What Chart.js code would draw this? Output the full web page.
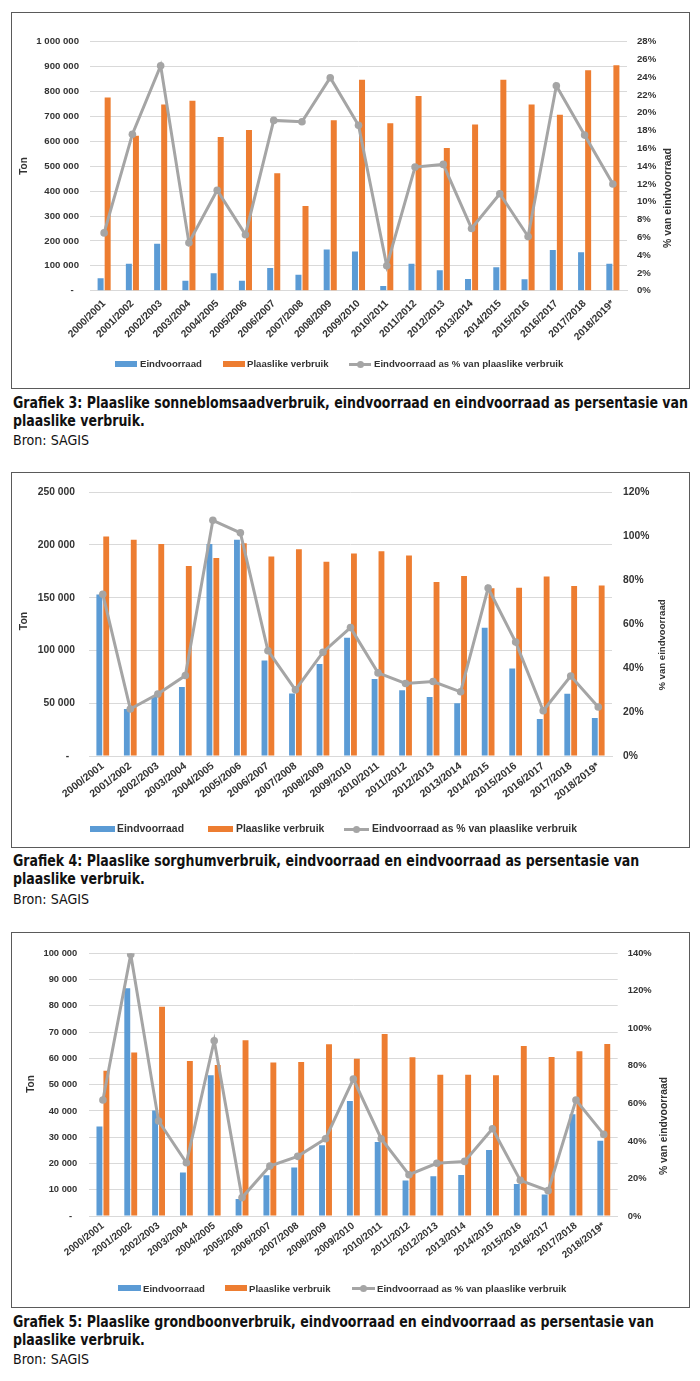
<!DOCTYPE html>
<html><head><meta charset="utf-8">
<script src="https://cdn.jsdelivr.net/npm/chart.js@4.4.1/dist/chart.umd.min.js"></script>
<style>
html,body{margin:0;padding:0;background:#fff;}
body{width:700px;height:1381px;position:relative;overflow:hidden;font-family:"Liberation Sans",Arial,sans-serif;}
.frame{position:absolute;left:11px;width:679px;border:1.6px solid #5a5a5a;box-sizing:border-box;}
canvas{position:absolute;left:0;}
.lt{position:absolute;font-family:"Liberation Sans",Arial,sans-serif;font-weight:bold;color:#333;white-space:nowrap;}
.cap{position:absolute;left:13px;white-space:nowrap;transform-origin:0 0;color:#111;font-family:"Liberation Sans Narrow","DejaVu Sans Condensed","Liberation Sans",sans-serif;}
</style></head><body>
<script>
// ---- data ----
const categories = ['2000/2001','2001/2002','2002/2003','2003/2004','2004/2005','2005/2006','2006/2007','2007/2008','2008/2009','2009/2010','2010/2011','2011/2012','2012/2013','2013/2014','2014/2015','2015/2016','2016/2017','2017/2018','2018/2019*'];
const seriesNames = ['Eindvoorraad','Plaaslike verbruik','Eindvoorraad as % van plaaslike verbruik'];

// Grafiek 3: sonneblomsaad
const sonEindvoorraad = [50000,108000,189000,40000,70000,40000,91000,64000,165000,157000,19000,108000,82000,47000,94000,46000,163000,154000,108000];
const sonVerbruik = [776000,622000,748000,763000,617000,645000,472000,340000,685000,847000,672000,782000,573000,667000,847000,748000,707000,885000,905000];
const sonPersent = [6.5,17.6,25.3,5.4,11.3,6.3,19.15,19.0,23.95,18.6,2.8,13.9,14.2,7.0,10.9,6.1,23.05,17.5,12.0];

// Grafiek 4: sorghum
const sorEindvoorraad = [153000,44500,56000,65400,201000,205000,90600,59300,87200,112000,73000,62300,56000,50000,121600,83000,35000,59000,36000];
const sorVerbruik = [208000,205000,201000,180000,187700,201500,189000,196000,184000,192000,194000,190000,165000,170500,159000,159400,170000,161000,161500];
const sorPersent = [73.6,21.4,28.2,36.6,107.2,101.5,47.9,30.1,47.2,58.4,37.8,33.0,33.9,29.2,76.4,51.8,20.6,36.4,22.3];

// Grafiek 5: grondboon
const grdEindvoorraad = [34100,86700,40200,16600,53600,6500,15500,18500,26900,43800,28200,13500,15100,15600,25100,12200,8200,38700,28600];
const grdVerbruik = [55300,62200,79700,59000,57500,66900,58400,58600,65400,59900,69300,60400,53800,53800,53600,64700,60500,62700,65500];
const grdPersent = [61.8,139.4,50.6,28.4,93.4,9.8,26.6,31.8,41.2,73.0,41.2,22.0,28.1,29.1,46.5,19.0,13.5,61.8,43.5];

// axis ranges
const tonAxes = [{max:1000000, step:100000},{max:250000, step:50000},{max:100000, step:10000}];
const pctAxes = [{max:28, step:2},{max:120, step:20},{max:140, step:20}];

const captions = [
  ['Grafiek 3: Plaaslike sonneblomsaadverbruik, eindvoorraad en eindvoorraad as persentasie van','plaaslike verbruik.','Bron: SAGIS'],
  ['Grafiek 4: Plaaslike sorghumverbruik, eindvoorraad en eindvoorraad as persentasie van','plaaslike verbruik.','Bron: SAGIS'],
  ['Grafiek 5: Plaaslike grondboonverbruik, eindvoorraad en eindvoorraad as persentasie van','plaaslike verbruik.','Bron: SAGIS']
];
const leftTitle = 'Ton';
const rightTitle = '% van eindvoorraad';

// ---- layout (positions/styles) ----
const layouts = [
  {top:12, bottom:388, plot:{l:90,r:627,t:41.7,b:290.7}, font:9.6, xfont:10.2, xpad:7, rot:45, padL:11, padR:10,
   tL:{x:24,y:166,s:10}, tR:{x:668,y:198,s:10.5},
   leg:{y:364, f:9.6, b:[115,22,140], o:[223,22,247], g:[349,22,374]},
   cap:[409.3,427,445]},
  {top:472, bottom:847, plot:{l:89,r:612,t:484.7,b:756}, font:10.3, xfont:10.5, xpad:4, rot:38, padL:14, padR:11,
   tL:{x:24,y:621,s:10.5}, tR:{x:662,y:645,s:9.6},
   leg:{y:829.3, f:10.4, b:[90,25,117], o:[208,25,236], g:[344,25,372]},
   cap:[867.3,885,904]},
  {top:932, bottom:1307, plot:{l:89,r:617.7,t:953.3,b:1216}, font:9.4, xfont:10, xpad:4, rot:38, padL:11.7, padR:10,
   tL:{x:31,y:1084,s:10}, tR:{x:664,y:1126,s:10.3},
   leg:{y:1288.3, f:9.6, b:[118,23,143], o:[225,22,249], g:[352,23,377]},
   cap:[1328.3,1346,1364]}
];
const data = [
  [sonEindvoorraad, sonVerbruik, sonPersent],
  [sorEindvoorraad, sorVerbruik, sorPersent],
  [grdEindvoorraad, grdVerbruik, grdPersent]
];

const BLUE='#5B9BD5', ORANGE='#ED7D31', GRAY='#A5A5A5', GRID='#D9D9D9', TXT='#333333';
const FAM='"Liberation Sans", Arial, sans-serif';
const fmtTon = v => v === 0 ? '-  ' : String(v).replace(/\B(?=(\d{3})+(?!\d))/g,' ');

function el(cls, css, text){
  const d=document.createElement('div'); if(cls) d.className=cls;
  Object.assign(d.style, css); if(text!==undefined) d.textContent=text;
  document.body.appendChild(d); return d;
}

function build(i){
  const o = layouts[i];
  const [eind, verbr, pct] = data[i];
  const H = o.bottom - o.top;
  el('frame',{top:o.top+'px',height:(H+1)+'px'});
  const cv=document.createElement('canvas');
  cv.style.top=o.top+'px'; cv.style.width='700px'; cv.style.height=H+'px';
  cv.width=700; cv.height=H;
  document.body.appendChild(cv);
  const tf={family:FAM,size:o.font,weight:'bold'};
  const xf={family:FAM,size:o.xfont,weight:'bold'};
  const titles={id:'titles'+i, afterDraw(ch){
    const c=ch.ctx; c.save(); c.fillStyle=TXT; c.textAlign='center'; c.textBaseline='middle';
    [[o.tL,leftTitle],[o.tR,rightTitle]].forEach(([p,t])=>{
      c.save(); c.translate(p.x, p.y - o.top); c.rotate(-Math.PI/2);
      c.font='bold '+p.s+'px '+FAM; c.fillText(t,0,0); c.restore();
    });
    c.restore();
  }};
  new Chart(cv,{
    data:{labels:categories, datasets:[
      {type:'line', label:seriesNames[2], data:pct, yAxisID:'y1', borderColor:GRAY, backgroundColor:GRAY,
       borderWidth:3, pointRadius:3.8, pointBackgroundColor:GRAY, pointBorderWidth:0, tension:0, order:0},
      {type:'bar', label:seriesNames[0], data:eind, yAxisID:'y', backgroundColor:BLUE, order:1,
       barPercentage:0.85, categoryPercentage:0.5},
      {type:'bar', label:seriesNames[1], data:verbr, yAxisID:'y', backgroundColor:ORANGE, order:1,
       barPercentage:0.85, categoryPercentage:0.5}
    ]},
    options:{
      responsive:false, animation:false, devicePixelRatio:window.devicePixelRatio||1,
      layout:{padding:{left:12,right:0,top:o.plot.t-o.top,bottom:0}},
      plugins:{legend:{display:false}, tooltip:{enabled:false}},
      scales:{
        x:{offset:true, grid:{display:false,drawTicks:false}, border:{color:GRID},
           ticks:{autoSkip:false,minRotation:o.rot,maxRotation:o.rot,font:xf,color:TXT,padding:o.xpad},
           afterFit(s){s.height=o.bottom-o.plot.b;}},
        y:{position:'left', min:0, max:tonAxes[i].max,
           ticks:{stepSize:tonAxes[i].step,font:tf,color:TXT,padding:o.padL,callback:fmtTon},
           grid:{color:GRID,drawTicks:false,lineWidth:1}, border:{display:false},
           afterFit(s){s.width=o.plot.l-12;}},
        y1:{position:'right', min:0, max:pctAxes[i].max,
           ticks:{stepSize:pctAxes[i].step,font:tf,color:TXT,padding:o.padR,callback:v=>v+'%'},
           grid:{drawOnChartArea:false,drawTicks:false}, border:{display:false},
           afterFit(s){s.width=700-o.plot.r;}}
      }
    },
    plugins:[titles]
  });
  // legend
  const L=o.leg, y=L.y;
  el('',{position:'absolute',left:L.b[0]+'px',top:(y-3)+'px',width:L.b[1]+'px',height:'6px',background:BLUE});
  el('',{position:'absolute',left:L.o[0]+'px',top:(y-3)+'px',width:L.o[1]+'px',height:'6px',background:ORANGE});
  el('',{position:'absolute',left:L.g[0]+'px',top:(y-1.5)+'px',width:L.g[1]+'px',height:'3px',background:GRAY});
  el('',{position:'absolute',left:(L.g[0]+L.g[1]/2-3.5)+'px',top:(y-3.5)+'px',width:'7px',height:'7px',borderRadius:'50%',background:GRAY});
  [[L.b[2],seriesNames[0]],[L.o[2],seriesNames[1]],[L.g[2],seriesNames[2]]].forEach(([x,t])=>{
    el('lt',{left:x+'px',top:(y-0.49*L.f)+'px',fontSize:L.f+'px',lineHeight:L.f+'px'},t);
  });
  // captions
  const c=captions[i], bl=o.cap, caps=[];
  caps.push(el('cap',{top:(bl[0]-0.846*15.5)+'px',fontSize:'15.5px',lineHeight:'15.5px',fontWeight:'bold'},c[0]));
  caps.push(el('cap',{top:(bl[1]-0.846*15.5)+'px',fontSize:'15.5px',lineHeight:'15.5px',fontWeight:'bold'},c[1]));
  caps.push(el('cap',{top:(bl[2]-0.846*14)+'px',fontSize:'14px',lineHeight:'14px',fontWeight:'normal'},c[2]));
  return caps;
}

const allCaps=[0,1,2].map(build);
// fit caption widths to the reference line length
const w0=allCaps[0][0].getBoundingClientRect().width;
const kB=675/w0;
const wb=allCaps[0][2].getBoundingClientRect().width;
const kR=76/wb;
allCaps.forEach(cs=>{
  cs[0].style.transform='scaleX('+kB+')';
  cs[1].style.transform='scaleX('+kB+')';
  cs[2].style.transform='scaleX('+kR+')';
});
</script>
</body></html>
